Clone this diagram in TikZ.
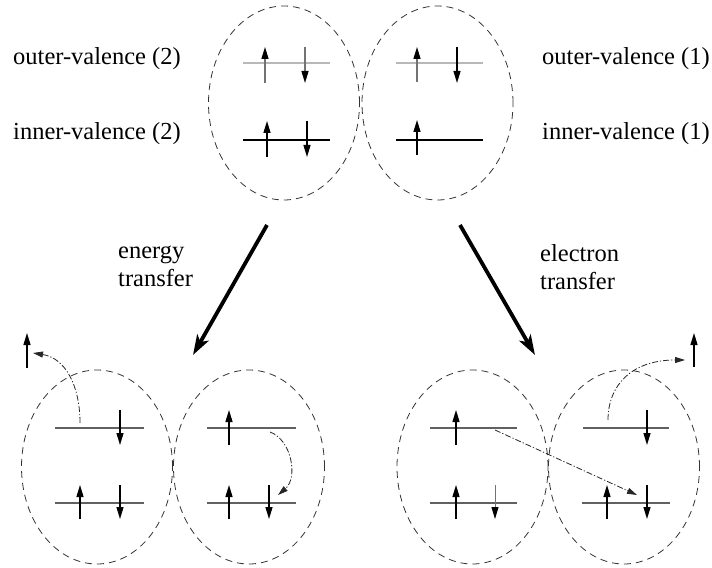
\documentclass[tikz,border=0pt]{standalone}
\usepackage{fontspec}
\setmainfont{Liberation Serif}
\usetikzlibrary{arrows.meta,shapes.geometric}
\begin{document}
\begin{tikzpicture}[x=1bp,y=-1bp,
  orb/.style={draw=black!80, dash pattern=on 7bp off 5bp, line width=0.8bp, ellipse, minimum width=151bp, minimum height=194bp, inner sep=0pt},
  lvlgray/.style={draw=black!28, line width=1.7bp},
  lvl/.style={draw=black, line width=1.6bp},
  lvlmid/.style={draw=black!62, line width=1.2bp},
  spin/.style={draw=black, line width=1.3bp, -{Triangle[length=12bp,width=7bp]}},
  spingray/.style={spin, draw=black!55, -{Triangle[length=12bp,width=7bp,color=black]}},
  hop/.style={draw=black!85, line width=0.8bp, dash pattern=on 6bp off 2bp on 1.2bp off 2bp, -{Triangle[length=10bp,width=6bp]}},
  big/.style={line width=3.8bp, -{Stealth[length=20bp,width=13bp,inset=5bp]}},
  lab/.style={font=\fontsize{24.5bp}{28bp}\selectfont, anchor=base west, inner sep=0pt}
]
\useasboundingbox (0,0) rectangle (712,568);

% ---------- top ----------
\node[orb] (A) at (284,103) {};
\node[orb] (B) at (437.5,103) {};

\draw[lvlgray] (243,63) -- (330,63);
\draw[lvl] (243,140) -- (330,140);
\draw[lvlgray] (396,63) -- (483,63);
\draw[lvl] (396,140) -- (483,140);

\draw[spingray] (265,83) -- (265,47);
\draw[spingray] (305,47) -- (305,83);
\draw[spin] (267,157) -- (267,121);
\draw[spin] (307,121) -- (307,157);
\draw[spingray] (417,82) -- (417,47);
\draw[spin] (457,47) -- (457,83);
\draw[spin] (417,155) -- (417,120);

\node[lab] (ol) at (13,65) {outer-valence (2)};
\node[lab] (il) at (13,140) {inner-valence (2)};
\node[lab] (or) at (542,65) {outer-valence (1)};
\node[lab] (ir) at (542,140) {inner-valence (1)};

% ---------- transfer arrows ----------
\coordinate (et0) at (267,225);
\coordinate (et1) at (193,355);
\coordinate (el0) at (460,225);
\coordinate (el1) at (535,355);
\draw[big] (et0) -- (et1);
\draw[big] (el0) -- (el1);

\node[lab] (en1) at (118,258) {energy};
\node[lab] (en2) at (118,286) {transfer};
\node[lab] (ec1) at (540,261) {electron};
\node[lab] (ec2) at (540,289) {transfer};

% ---------- bottom left pair ----------
\node[orb] (C) at (97,467) {};
\node[orb] (D) at (249,467) {};

\draw[lvlmid] (55,428) -- (144,428);
\draw[lvlmid] (55,503) -- (144,503);
\draw[spin] (120,410) -- (120,445);
\draw[spin] (80,519) -- (80,485);
\draw[spin] (120,485) -- (120,519);
\draw[spin] (27,368) -- (27,333);

\draw[lvlmid] (207,428) -- (296,428);
\draw[lvlmid] (207,503) -- (296,503);
\draw[spin] (229,445) -- (229,410);
\draw[spin] (229,519) -- (229,485);
\draw[spin] (269,485) -- (269,519);

\coordinate (h1a) at (80,423);
\coordinate (h1b) at (33,353);
\draw[hop] (h1a) .. controls (80,385) and (65,358) .. (h1b);
\coordinate (h2a) at (270,432);
\coordinate (h2b) at (278,495);
\draw[hop] (h2a) .. controls (292,440) and (298,478) .. (h2b);

% ---------- bottom right pair ----------
\node[orb] (E) at (472.5,467) {};
\node[orb] (F) at (624,467) {};

\draw[lvlmid] (430,428) -- (517,428);
\draw[lvlmid] (430,503) -- (517,503);
\draw[spin] (456,445) -- (456,410);
\draw[spin] (456,519) -- (456,485);
\draw[spingray, line width=1bp] (495,485) -- (495,519);

\draw[lvlmid] (583,428) -- (669,428);
\draw[lvlmid] (582,503) -- (670,503);
\draw[spin] (647,410) -- (647,445);
\draw[spin] (607,519) -- (607,485);
\draw[spin] (647,485) -- (647,519);
\draw[spin] (694,367) -- (694,333);

\coordinate (h3a) at (608,420);
\coordinate (h3b) at (685,360);
\draw[hop] (h3a) .. controls (608,385) and (632,360) .. (h3b);
\coordinate (h4a) at (495,430);
\coordinate (h4b) at (637,495);
\draw[hop] (h4a) -- (h4b);
\end{tikzpicture}
\end{document}
